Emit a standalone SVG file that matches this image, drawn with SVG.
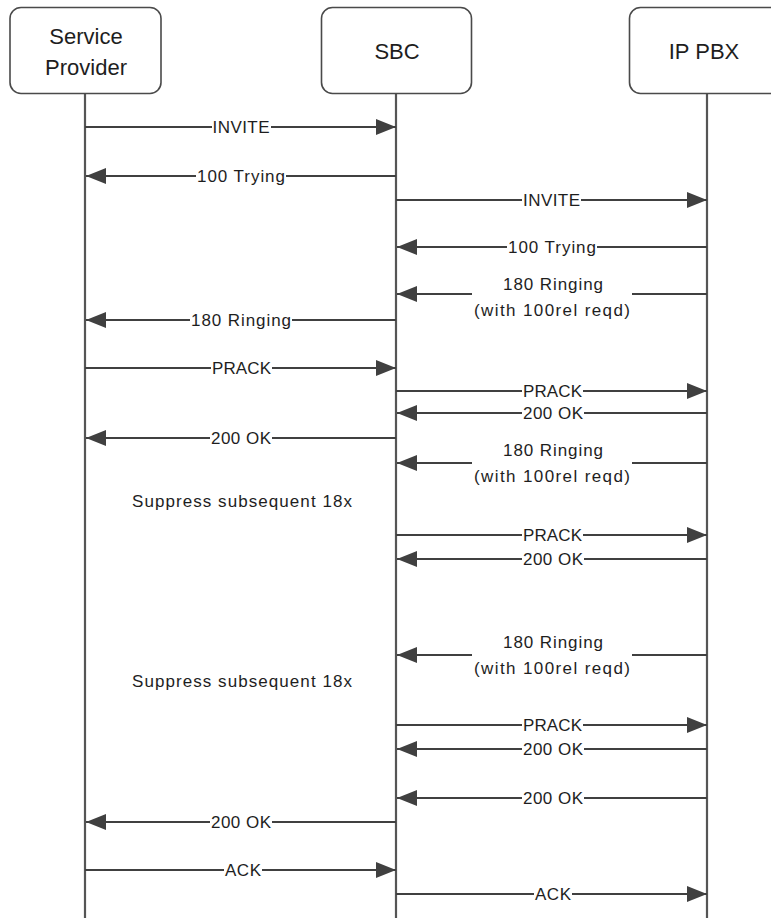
<svg xmlns="http://www.w3.org/2000/svg" width="771" height="918" viewBox="0 0 771 918">
<style>
.box{fill:#fff;stroke:#4a4a4a;stroke-width:1.6}
.life{stroke:#555;stroke-width:2.2;fill:none}
.msg{stroke:#404040;stroke-width:2;fill:none;marker-end:url(#ah)}
.bg{fill:#fff}
.hd{font-family:"Liberation Sans",Arial,sans-serif;font-size:22px;fill:#1e1e1e;text-anchor:middle}
.lb{font-family:"Liberation Sans",Arial,sans-serif;font-size:17px;fill:#1e1e1e;text-anchor:middle}
</style>
<defs>
<marker id="ah" viewBox="0 0 20 16" refX="20" refY="8" markerWidth="20" markerHeight="16" markerUnits="userSpaceOnUse" orient="auto">
<path d="M0,0 L20,8 L0,16 z" fill="#404040"/>
</marker>
</defs>
<rect width="771" height="918" fill="#fff"/>
<g id="lifelines">
<line class="life" x1="85" y1="94" x2="85" y2="918"/>
<line class="life" x1="396" y1="94" x2="396" y2="918"/>
<line class="life" x1="707" y1="94" x2="707" y2="918"/>
</g>
<g id="node-sp">
<rect class="box" x="10" y="7.5" width="151" height="86" rx="11"/>
<text class="hd" x="86" y="44">Service</text>
<text class="hd" x="86" y="75">Provider</text>
</g>
<g id="node-sbc">
<rect class="box" x="321.5" y="7.5" width="150" height="86" rx="11"/>
<text class="hd" x="397" y="58.5">SBC</text>
</g>
<g id="node-pbx">
<rect class="box" x="629.5" y="7.5" width="152" height="86" rx="11"/>
<text class="hd" x="704" y="58.5">IP PBX</text>
</g>
<g id="connectors">
<line class="msg" x1="85" y1="127" x2="396" y2="127"/>
<rect class="bg" x="212" y="120" width="59" height="14"/>
<text class="lb" x="241" y="133" textLength="57">INVITE</text>

<line class="msg" x1="396" y1="176" x2="86" y2="176"/>
<rect class="bg" x="196" y="169" width="90" height="14"/>
<text class="lb" x="241" y="182" textLength="88">100 Trying</text>

<line class="msg" x1="396" y1="200" x2="707" y2="200"/>
<rect class="bg" x="522" y="193" width="59" height="14"/>
<text class="lb" x="551.5" y="206" textLength="57">INVITE</text>

<line class="msg" x1="707" y1="247" x2="397" y2="247"/>
<rect class="bg" x="507" y="240" width="90" height="14"/>
<text class="lb" x="552" y="253" textLength="88">100 Trying</text>

<line class="msg" x1="707" y1="294" x2="397" y2="294"/>
<rect class="bg" x="472" y="276" width="160" height="40"/>
<text class="lb" x="553" y="289.5" textLength="100">180 Ringing</text>
<text class="lb" x="552" y="315.5" textLength="156">(with 100rel reqd)</text>

<line class="msg" x1="396" y1="320" x2="86" y2="320"/>
<rect class="bg" x="190" y="313" width="102" height="14"/>
<text class="lb" x="241" y="326" textLength="100">180 Ringing</text>

<line class="msg" x1="85" y1="368" x2="396" y2="368"/>
<rect class="bg" x="211" y="361" width="61" height="14"/>
<text class="lb" x="241.5" y="374" textLength="59">PRACK</text>

<line class="msg" x1="396" y1="391" x2="707" y2="391"/>
<rect class="bg" x="522" y="384" width="61" height="14"/>
<text class="lb" x="552.5" y="397" textLength="59">PRACK</text>

<line class="msg" x1="707" y1="413" x2="397" y2="413"/>
<rect class="bg" x="522" y="406" width="62" height="14"/>
<text class="lb" x="553" y="419" textLength="60">200 OK</text>

<line class="msg" x1="396" y1="438" x2="86" y2="438"/>
<rect class="bg" x="210" y="431" width="62" height="14"/>
<text class="lb" x="241" y="444" textLength="60">200 OK</text>

<line class="msg" x1="707" y1="463" x2="397" y2="463"/>
<rect class="bg" x="472" y="443" width="160" height="40"/>
<text class="lb" x="553" y="456" textLength="100">180 Ringing</text>
<text class="lb" x="552" y="482" textLength="156">(with 100rel reqd)</text>

<line class="msg" x1="396" y1="535" x2="707" y2="535"/>
<rect class="bg" x="522" y="528" width="61" height="14"/>
<text class="lb" x="552.5" y="541" textLength="59">PRACK</text>

<line class="msg" x1="707" y1="559" x2="397" y2="559"/>
<rect class="bg" x="522" y="552" width="62" height="14"/>
<text class="lb" x="553" y="565" textLength="60">200 OK</text>

<line class="msg" x1="707" y1="655" x2="397" y2="655"/>
<rect class="bg" x="472" y="635" width="160" height="40"/>
<text class="lb" x="553" y="648" textLength="100">180 Ringing</text>
<text class="lb" x="552" y="674" textLength="156">(with 100rel reqd)</text>

<line class="msg" x1="396" y1="725" x2="707" y2="725"/>
<rect class="bg" x="522" y="718" width="61" height="14"/>
<text class="lb" x="552.5" y="731" textLength="59">PRACK</text>

<line class="msg" x1="707" y1="749" x2="397" y2="749"/>
<rect class="bg" x="522" y="742" width="62" height="14"/>
<text class="lb" x="553" y="755" textLength="60">200 OK</text>

<line class="msg" x1="707" y1="798" x2="397" y2="798"/>
<rect class="bg" x="522" y="791" width="62" height="14"/>
<text class="lb" x="553" y="804" textLength="60">200 OK</text>

<line class="msg" x1="396" y1="822" x2="86" y2="822"/>
<rect class="bg" x="210" y="815" width="62" height="14"/>
<text class="lb" x="241" y="828" textLength="60">200 OK</text>

<line class="msg" x1="85" y1="870" x2="396" y2="870"/>
<rect class="bg" x="224" y="863" width="38" height="14"/>
<text class="lb" x="243" y="876" textLength="36">ACK</text>

<line class="msg" x1="396" y1="894" x2="707" y2="894"/>
<rect class="bg" x="534" y="887" width="38" height="14"/>
<text class="lb" x="553" y="900" textLength="36">ACK</text>
</g>
<g id="notes">
<text class="lb" x="242" y="506.5" textLength="220">Suppress subsequent 18x</text>
<text class="lb" x="242" y="686.5" textLength="220">Suppress subsequent 18x</text>
</g>
</svg>
